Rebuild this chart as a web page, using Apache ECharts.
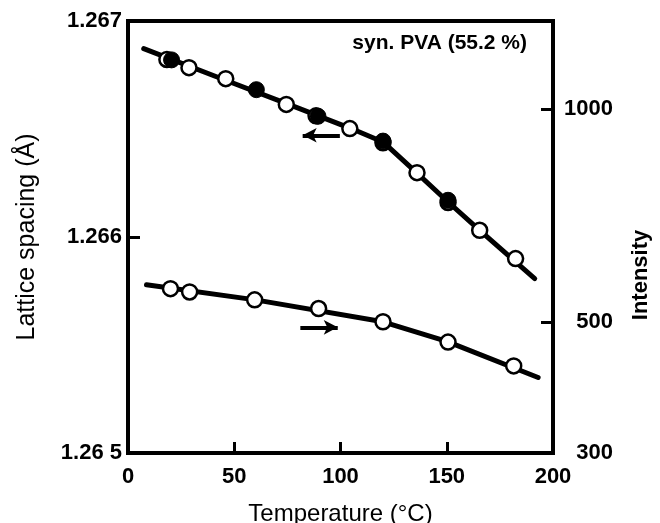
<!DOCTYPE html>
<html>
<head>
<meta charset="utf-8">
<script src="https://cdn.jsdelivr.net/npm/echarts@6/dist/echarts.min.js"></script>
<style>
html,body{margin:0;padding:0;background:#fff;}
#main{width:660px;height:523px;}
</style>
</head>
<body>
<div id="main"></div>
<script>
// lattice spacing (left axis), open circles
var latOpenT = [18.3, 28.7, 46, 74.5, 88.5, 104.4, 120, 136, 150.6, 165.5, 182.4];
var latOpenV = [1.266822, 1.266784, 1.266733, 1.266614, 1.266561, 1.266502, 1.266436, 1.266298, 1.266160, 1.266031, 1.265900];
// lattice spacing, filled circles
var latFillT = [20.5, 60.4, 89.4, 120, 150.6];
var latFillV = [1.266820, 1.266682, 1.266559, 1.266444, 1.266170];
// drawn curve through lattice points
var latLineT = [7.4, 45, 75, 105, 120, 135, 150, 165, 191.4];
var latLineV = [1.266872, 1.266729, 1.266616, 1.266502, 1.266440, 1.266305, 1.266168, 1.266035, 1.265807];
// intensity (right axis)
var intT = [20, 29, 59.6, 89.7, 120, 150.6, 181.5];
var intV = [558, 552, 538, 523, 501, 469, 434];
var intLineT = [8.7, 60, 120, 150, 193];
var intLineV = [565, 538, 501, 470, 418];

var xTicks = [0, 50, 100, 150, 200];
var intMin = 327, intMax = 1332;
var intTicks = [intMin, 500, 1000];

var font = "'Liberation Sans', Arial, Helvetica, sans-serif";

function pairs(a, b){
	var out = [];
	for(var i=0;i<a.length;i++){
		out.push([a[i], b[i]]);
	}
	return out;
}

var myChart = echarts.init(document.getElementById('main'), null, {renderer:'canvas'});

var arrowStyle = {
	silent: true,
	symbol: ['none', 'arrow'],
	symbolSize: [11, 14],
	label: {show: false},
	lineStyle: {color: '#000', width: 4, type: 'solid'}
};

var option = {
	animation: false,
	backgroundColor: '#fff',
	textStyle: {fontFamily: font, color: '#000'},
	grid: {
		left: 128, right: 107, top: 21, bottom: 70,
		outerBoundsMode: 'none',
		containLabel: false,
		show: true, borderWidth: 4, borderColor: '#000', backgroundColor: 'transparent'
	},
	graphic: [{
		type: 'text',
		right: 133,
		top: 33,
		style: {text: 'syn. PVA (55.2 %)', font: 'bold 21px ' + font, fill: '#000'}
	},{
		type: 'text',
		x: 641, y: 275,
		rotation: Math.PI / 2,
		style: {text: 'Intensity', font: 'bold 22px ' + font, fill: '#000', align: 'center', verticalAlign: 'middle'}
	}],
	xAxis: {
		type: 'value',
		min: 0, max: 200, interval: 50,
		name: 'Temperature (°C)',
		nameLocation: 'middle',
		nameGap: 49,
		nameTextStyle: {fontSize: 24, color: '#000', fontFamily: font},
		axisLine: {show: true, lineStyle: {color: '#000', width: 4}},
		axisTick: {show: true, inside: true, length: 11, lineStyle: {color: '#000', width: 3}},
		axisLabel: {
			margin: 13, color: '#000', fontSize: 22, fontWeight: 'bold', fontFamily: font,
			formatter: function(v){ return String(v); }
		},
		splitLine: {show: false}
	},
	yAxis: [{
		type: 'value',
		min: 1.265, max: 1.267, interval: 0.001,
		name: 'Lattice spacing (Å)',
		nameLocation: 'middle',
		nameGap: 88,
		nameTextStyle: {fontSize: 25, color: '#000', fontFamily: font},
		axisLine: {show: true, lineStyle: {color: '#000', width: 4}},
		axisTick: {show: true, inside: true, length: 12, lineStyle: {color: '#000', width: 3}},
		axisLabel: {
			margin: 6, color: '#000', fontSize: 22, fontWeight: 'bold', fontFamily: font,
			formatter: function(v){
				var s = v.toFixed(3);
				return s === '1.265' ? '1.26 5' : s;
			}
		},
		splitLine: {show: false}
	},{
		type: 'log',
		logBase: 10,
		min: intMin, max: intMax,
		position: 'right',
		axisLine: {show: true, lineStyle: {color: '#000', width: 4}},
		axisTick: {show: true, inside: true, length: 12, customValues: intTicks, lineStyle: {color: '#000', width: 3}},
		axisLabel: {
			margin: 60, align: 'right', customValues: intTicks,
			color: '#000', fontSize: 22, fontWeight: 'bold', fontFamily: font,
			formatter: function(v){ return v < 400 ? '300' : String(Math.round(v)); }
		},
		splitLine: {show: false}
	}],
	series: [{
		name: 'lattice line',
		type: 'line',
		yAxisIndex: 0,
		data: pairs(latLineT, latLineV),
		showSymbol: false,
		symbol: 'none',
		lineStyle: {color: '#000', width: 5, cap: 'round', join: 'round'},
		markLine: echarts.util.extend({
			data: [[{coord: [99.7, 1.266471]}, {coord: [82.2, 1.266471]}]]
		}, arrowStyle),
		z: 2
	},{
		name: 'lattice open',
		type: 'scatter',
		yAxisIndex: 0,
		data: pairs(latOpenT, latOpenV),
		symbol: 'circle',
		symbolSize: 15,
		itemStyle: {color: '#fff', borderColor: '#000', borderWidth: 2.5, opacity: 1},
		z: 3
	},{
		name: 'lattice filled',
		type: 'scatter',
		yAxisIndex: 0,
		data: pairs(latFillT, latFillV),
		symbol: 'circle',
		symbolSize: 16,
		itemStyle: {color: '#000', borderColor: '#000', borderWidth: 1, opacity: 1},
		z: 4
	},{
		name: 'intensity line',
		type: 'line',
		yAxisIndex: 1,
		data: pairs(intLineT, intLineV),
		showSymbol: false,
		symbol: 'none',
		lineStyle: {color: '#000', width: 5, cap: 'round', join: 'round'},
		markLine: echarts.util.extend({
			data: [[{coord: [81.1, 492]}, {coord: [98.7, 492]}]]
		}, arrowStyle),
		z: 2
	},{
		name: 'intensity open',
		type: 'scatter',
		yAxisIndex: 1,
		data: pairs(intT, intV),
		symbol: 'circle',
		symbolSize: 15,
		itemStyle: {color: '#fff', borderColor: '#000', borderWidth: 2.5, opacity: 1},
		z: 3
	}]
};

myChart.setOption(option);
</script>
</body>
</html>
